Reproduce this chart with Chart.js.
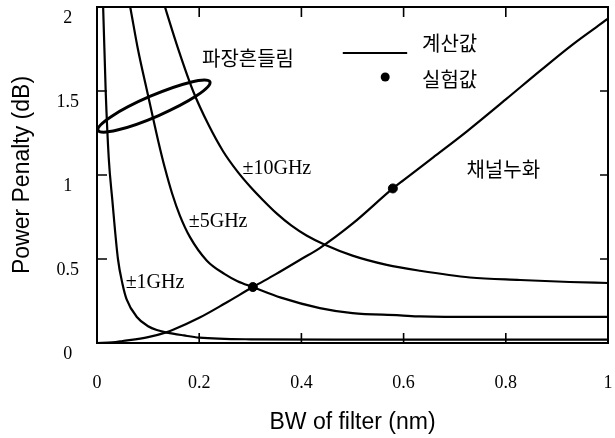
<!DOCTYPE html>
<html><head><meta charset="utf-8">
<script src="https://cdn.jsdelivr.net/npm/chart.js@4"></script>
<style>html,body{margin:0;padding:0;background:#fff;overflow:hidden}canvas{display:block}</style>
</head><body>
<canvas id="c" width="615" height="438"></canvas>
<script>
// ---- data ----
const xTickValues = [0, 0.2, 0.4, 0.6, 0.8, 1];
const xTickLabels = ['0', '0.2', '0.4', '0.6', '0.8', '1'];
const yTickValues = [0, 0.5, 1, 1.5, 2];
const yTickLabels = ['0', '0.5', '1', '1.5', '2'];

const leakX = [0, 0.03, 0.05, 0.1, 0.137, 0.15, 0.2, 0.25, 0.305, 0.35, 0.4, 0.436, 0.5, 0.579, 0.6, 0.658, 0.724, 0.8, 0.867, 0.93, 1.0];
const leakY = [0, 0.004, 0.012, 0.035, 0.065, 0.08, 0.15, 0.235, 0.333, 0.41, 0.5, 0.565, 0.71, 0.92, 0.97, 1.105, 1.26, 1.45, 1.62, 1.775, 1.93];

const g1X = [0.0105, 0.012, 0.017, 0.023, 0.03, 0.041, 0.05, 0.058, 0.078, 0.1, 0.117, 0.137, 0.17, 0.2, 0.3, 0.5, 0.7, 1.0];
const g1Y = [2.1, 2.0, 1.5, 1.1, 0.85, 0.5, 0.35, 0.26, 0.155, 0.1, 0.077, 0.062, 0.045, 0.032, 0.022, 0.02, 0.02, 0.02];

const g5X = [0.06, 0.065, 0.08, 0.098, 0.12, 0.133, 0.147, 0.162, 0.182, 0.215, 0.25, 0.275, 0.305, 0.36, 0.436, 0.5, 0.593, 0.632, 0.75, 0.85, 1.0];
const g5Y = [2.08, 2.0, 1.75, 1.5, 1.2, 1.04, 0.89, 0.76, 0.63, 0.49, 0.41, 0.368, 0.333, 0.27, 0.208, 0.178, 0.165, 0.158, 0.155, 0.155, 0.155];

const g10X = [0.128, 0.133, 0.16, 0.188, 0.218, 0.247, 0.275, 0.30, 0.325, 0.352, 0.38, 0.41, 0.446, 0.5, 0.567, 0.632, 0.73, 0.828, 0.925, 1.0];
const g10Y = [2.05, 2.0, 1.74, 1.5, 1.3, 1.14, 1.02, 0.93, 0.85, 0.77, 0.70, 0.64, 0.585, 0.52, 0.465, 0.43, 0.39, 0.375, 0.363, 0.357];

const measX = [0.305, 0.579];
const measY = [0.333, 0.92];

const seriesLabels = ['±1GHz', '±5GHz', '±10GHz', '채널누화'];
const legendLabels = ['계산값', '실험값'];
const ellipseLabel = '파장흔들림';
const xTitle = 'BW of filter (nm)';
const yTitle = 'Power Penalty (dB)';

// ---- annotation placement (data coordinates) ----
const labelPos = [
  {t: seriesLabels[0], x: 0.1135, y: 0.357, serif: true},
  {t: seriesLabels[1], x: 0.237, y: 0.72, serif: true},
  {t: seriesLabels[2], x: 0.352, y: 1.036, serif: true},
  {t: seriesLabels[3], x: 0.795, y: 1.036, serif: false},
  {t: ellipseLabel, x: 0.2955, y: 1.696, serif: false}
];
const ell = {cx: 0.1115, cy: 1.41, tipX: 0.221, tipY: 1.554, minorPx: 10.5};

const pts = (xs, ys) => xs.map((x, i) => ({x, y: ys[i]}));
const lineDs = (label, xs, ys) => ({
  label, data: pts(xs, ys), showLine: true, borderColor: '#000', borderWidth: 2.2,
  pointRadius: 0, cubicInterpolationMode: 'monotone', fill: false
});
const zeroPad = s => { s.paddingTop = 0; s.paddingBottom = 0; s.paddingLeft = 0; s.paddingRight = 0; };

const overlay = {
  id: 'overlay',
  afterDraw(chart) {
    const {ctx, scales: {x, y}} = chart;
    const L = x.getPixelForValue(0), R = x.getPixelForValue(1);
    const T = y.getPixelForValue(2), B = y.getPixelForValue(0);
    ctx.save();
    ctx.strokeStyle = '#000';
    ctx.fillStyle = '#000';
    // frame
    ctx.lineWidth = 2;
    ctx.strokeRect(L, T, R - L, B - T);
    // inward ticks
    ctx.lineWidth = 1.6;
    ctx.beginPath();
    x.ticks.forEach(t => {
      const px = x.getPixelForValue(t.value);
      if (px <= L + 1 || px >= R - 1) return;
      ctx.moveTo(px, B); ctx.lineTo(px, B - 10);
      ctx.moveTo(px, T); ctx.lineTo(px, T + 10);
    });
    y.ticks.forEach(t => {
      const py = y.getPixelForValue(t.value);
      if (py <= T + 1 || py >= B - 1) return;
      ctx.moveTo(L, py); ctx.lineTo(L + 10, py);
      ctx.moveTo(R, py); ctx.lineTo(R - 8, py);
    });
    ctx.stroke();
    // ellipse
    const cx = x.getPixelForValue(ell.cx), cy = y.getPixelForValue(ell.cy);
    const tx = x.getPixelForValue(ell.tipX), ty = y.getPixelForValue(ell.tipY);
    ctx.lineWidth = 3;
    ctx.beginPath();
    ctx.ellipse(cx, cy, Math.hypot(tx - cx, ty - cy), ell.minorPx, Math.atan2(ty - cy, tx - cx), 0, Math.PI * 2);
    ctx.stroke();
    // labels
    ctx.textAlign = 'center';
    ctx.textBaseline = 'middle';
    labelPos.forEach(l => {
      ctx.font = l.serif ? '20px "Liberation Serif"' : '20px "Noto Sans CJK KR"';
      ctx.fillText(l.t, x.getPixelForValue(l.x), y.getPixelForValue(l.y));
    });
    // legend
    const lx0 = x.getPixelForValue(0.481), lx1 = x.getPixelForValue(0.607);
    const ly = y.getPixelForValue(1.726);
    ctx.lineWidth = 2;
    ctx.beginPath(); ctx.moveTo(lx0, ly); ctx.lineTo(lx1, ly); ctx.stroke();
    ctx.beginPath();
    ctx.arc(x.getPixelForValue(0.564), y.getPixelForValue(1.583), 4.5, 0, Math.PI * 2);
    ctx.fill();
    ctx.textAlign = 'left';
    ctx.font = '20px "Noto Sans CJK KR"';
    ctx.fillText(legendLabels[0], x.getPixelForValue(0.636), y.getPixelForValue(1.786));
    ctx.fillText(legendLabels[1], x.getPixelForValue(0.636), y.getPixelForValue(1.571));
    ctx.restore();
  }
};

new Chart(document.getElementById('c'), {
  type: 'scatter',
  data: {
    datasets: [
      lineDs(seriesLabels[0], g1X, g1Y),
      lineDs(seriesLabels[1], g5X, g5Y),
      lineDs(seriesLabels[2], g10X, g10Y),
      lineDs(seriesLabels[3], leakX, leakY),
      {label: legendLabels[1], data: pts(measX, measY), pointRadius: 4.5, pointBackgroundColor: '#000', pointBorderColor: '#000', showLine: false}
    ]
  },
  options: {
    responsive: false,
    animation: false,
    devicePixelRatio: 1,
    layout: {padding: {top: 7, right: 7, bottom: 0, left: 0}},
    plugins: {legend: {display: false}, tooltip: {enabled: false}},
    scales: {
      x: {
        type: 'linear', min: 0, max: 1,
        afterBuildTicks: s => { s.ticks = xTickValues.map(v => ({value: v})); },
        afterFit: s => { s.height = 95; zeroPad(s); },
        grid: {display: false, drawTicks: false},
        border: {display: false},
        ticks: {color: '#000', padding: 29, maxRotation: 0, autoSkip: false,
          callback: (v, i) => xTickLabels[i],
          font: {family: '"Liberation Serif"', size: 18}},
        title: {display: true, text: xTitle, color: '#000', padding: {top: 0, bottom: 2}, font: {family: '"Liberation Sans"', size: 23}}
      },
      y: {
        type: 'linear', min: 0, max: 2,
        afterBuildTicks: s => { s.ticks = yTickValues.map(v => ({value: v})); },
        afterFit: s => { s.width = 97; zeroPad(s); },
        grid: {display: false, drawTicks: false},
        border: {display: false},
        ticks: {color: '#000', padding: 18, crossAlign: 'center', labelOffset: 11, autoSkip: false,
          callback: (v, i) => yTickLabels[i],
          font: {family: '"Liberation Serif"', size: 18}},
        title: {display: true, text: yTitle, color: '#000', padding: {top: 9, bottom: 0}, font: {family: '"Liberation Sans"', size: 23}}
      }
    }
  },
  plugins: [overlay]
});
</script>
</body></html>
